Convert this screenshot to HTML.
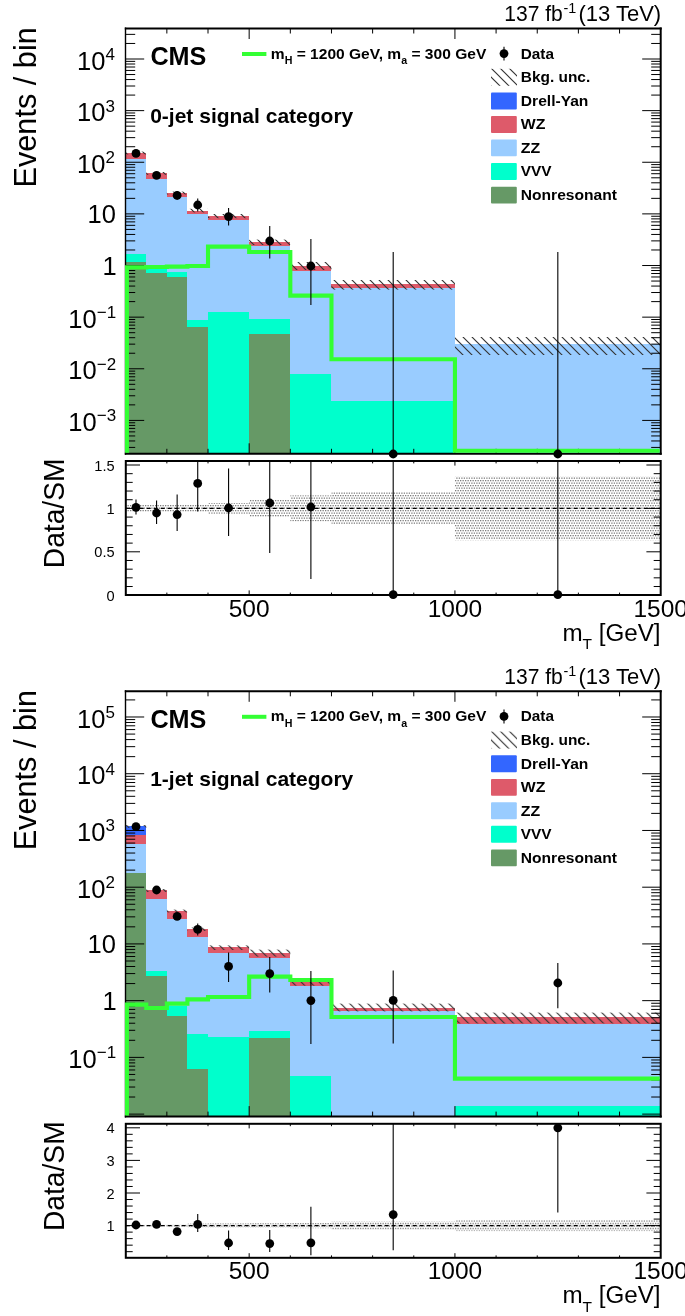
<!DOCTYPE html>
<html lang="en"><head><meta charset="utf-8"><title>CMS mT distributions</title>
<style>html,body{margin:0;padding:0;background:#fff}svg{display:block;will-change:transform}</style></head><body>
<svg width="685" height="1316" viewBox="0 0 685 1316">
<defs>
<pattern id="hatch" width="9" height="9" patternUnits="userSpaceOnUse"><path d="M-1 -1L10 10M-1 8L1 10M8 -1L10 1" stroke="#333" stroke-width="1.15" fill="none"/></pattern>
<pattern id="dots" width="5" height="5" patternUnits="userSpaceOnUse"><rect x="0" y="0" width="1.3" height="1.3" fill="#7c7c7c"/><rect x="2.5" y="0" width="1.3" height="1.3" fill="#7c7c7c"/><rect x="1.25" y="2.5" width="1.3" height="1.3" fill="#7c7c7c"/><rect x="3.75" y="2.5" width="1.3" height="1.3" fill="#7c7c7c"/></pattern>
</defs>
<rect width="685" height="1316" fill="#fff"/>
<g transform="translate(0,0)">
<clipPath id="c1"><rect x="125.7" y="28.5" width="535" height="425.3"/></clipPath>
<clipPath id="rc1"><rect x="125.7" y="461" width="535" height="134"/></clipPath>
<clipPath id="sc1"><rect x="124.8" y="29.5" width="534.9" height="423.3"/></clipPath>
<g clip-path="url(#c1)">
<polygon points="125.7,453.8 125.7,153 146.28,153 146.28,173.4 166.85,173.4 166.85,193 187.43,193 187.43,210.6 208.01,210.6 208.01,216 249.16,216 249.16,242 290.32,242 290.32,266 331.47,266 331.47,284 454.93,284 454.93,343.6 660.7,343.6 660.7,453.8" fill="#3366ff" shape-rendering="crispEdges"/>
<polygon points="125.7,453.8 125.7,153 146.28,153 146.28,173.4 166.85,173.4 166.85,193 187.43,193 187.43,210.6 208.01,210.6 208.01,216 249.16,216 249.16,242 290.32,242 290.32,266 331.47,266 331.47,284 454.93,284 454.93,343.6 660.7,343.6 660.7,453.8" fill="#de5a6a" shape-rendering="crispEdges"/>
<polygon points="125.7,453.8 125.7,158.6 146.28,158.6 146.28,179 166.85,179 166.85,197 187.43,197 187.43,213.6 208.01,213.6 208.01,220 249.16,220 249.16,245.8 290.32,245.8 290.32,271 331.47,271 331.47,287.6 454.93,287.6 454.93,343.6 660.7,343.6 660.7,453.8" fill="#99ccff" shape-rendering="crispEdges"/>
<polygon points="125.7,453.8 125.7,254.4 146.28,254.4 146.28,269 166.85,269 166.85,272.4 187.43,272.4 187.43,320 208.01,320 208.01,312 249.16,312 249.16,318.6 290.32,318.6 290.32,374 331.47,374 331.47,400.6 454.93,400.6 454.93,453.8 660.7,453.8 660.7,453.8" fill="#00ffcc" shape-rendering="crispEdges"/>
<polygon points="125.7,453.8 125.7,261.6 146.28,261.6 146.28,273 166.85,273 166.85,277 187.43,277 187.43,326.6 208.01,326.6 208.01,453.8 249.16,453.8 249.16,334 290.32,334 290.32,453.8 331.47,453.8 331.47,453.8 454.93,453.8 454.93,453.8 660.7,453.8 660.7,453.8" fill="#669966" shape-rendering="crispEdges"/>
<rect x="125.7" y="151.6" width="20.58" height="2.8" fill="url(#hatch)"/>
<rect x="146.28" y="172" width="20.58" height="2.8" fill="url(#hatch)"/>
<rect x="166.85" y="191.6" width="20.58" height="2.8" fill="url(#hatch)"/>
<rect x="187.43" y="208.8" width="20.58" height="3.6" fill="url(#hatch)"/>
<rect x="208.01" y="214" width="41.15" height="4.2" fill="url(#hatch)"/>
<rect x="249.16" y="239.6" width="41.15" height="5.4" fill="url(#hatch)"/>
<rect x="290.32" y="262" width="41.15" height="8" fill="url(#hatch)"/>
<rect x="331.47" y="280" width="123.46" height="9.6" fill="url(#hatch)"/>
<rect x="454.93" y="337" width="205.77" height="18" fill="url(#hatch)"/>
</g>
<line x1="125.5" y1="27.5" x2="125.5" y2="454.8" stroke="#000" stroke-width="1.4"/>
<line x1="660.7" y1="27.5" x2="660.7" y2="454.8" stroke="#000" stroke-width="2"/>
<line x1="124.8" y1="28.5" x2="661.7" y2="28.5" stroke="#000" stroke-width="2"/>
<line x1="124.8" y1="453.8" x2="661.7" y2="453.8" stroke="#000" stroke-width="2"/>
<path d="M125.7 447.41h9.5M660.7 447.41h-9.5M125.7 440.96h9.5M660.7 440.96h-9.5M125.7 435.95h9.5M660.7 435.95h-9.5M125.7 431.86h9.5M660.7 431.86h-9.5M125.7 428.41h9.5M660.7 428.41h-9.5M125.7 425.41h9.5M660.7 425.41h-9.5M125.7 422.77h9.5M660.7 422.77h-9.5M125.7 420.41h18.5M660.7 420.41h-18.5M125.7 404.87h9.5M660.7 404.87h-9.5M125.7 395.78h9.5M660.7 395.78h-9.5M125.7 389.33h9.5M660.7 389.33h-9.5M125.7 384.32h9.5M660.7 384.32h-9.5M125.7 380.23h9.5M660.7 380.23h-9.5M125.7 376.78h9.5M660.7 376.78h-9.5M125.7 373.78h9.5M660.7 373.78h-9.5M125.7 371.14h9.5M660.7 371.14h-9.5M125.7 368.78h18.5M660.7 368.78h-18.5M125.7 353.24h9.5M660.7 353.24h-9.5M125.7 344.15h9.5M660.7 344.15h-9.5M125.7 337.7h9.5M660.7 337.7h-9.5M125.7 332.69h9.5M660.7 332.69h-9.5M125.7 328.6h9.5M660.7 328.6h-9.5M125.7 325.15h9.5M660.7 325.15h-9.5M125.7 322.15h9.5M660.7 322.15h-9.5M125.7 319.51h9.5M660.7 319.51h-9.5M125.7 317.15h18.5M660.7 317.15h-18.5M125.7 301.61h9.5M660.7 301.61h-9.5M125.7 292.52h9.5M660.7 292.52h-9.5M125.7 286.07h9.5M660.7 286.07h-9.5M125.7 281.06h9.5M660.7 281.06h-9.5M125.7 276.97h9.5M660.7 276.97h-9.5M125.7 273.52h9.5M660.7 273.52h-9.5M125.7 270.52h9.5M660.7 270.52h-9.5M125.7 267.88h9.5M660.7 267.88h-9.5M125.7 265.52h18.5M660.7 265.52h-18.5M125.7 249.98h9.5M660.7 249.98h-9.5M125.7 240.89h9.5M660.7 240.89h-9.5M125.7 234.44h9.5M660.7 234.44h-9.5M125.7 229.43h9.5M660.7 229.43h-9.5M125.7 225.34h9.5M660.7 225.34h-9.5M125.7 221.89h9.5M660.7 221.89h-9.5M125.7 218.89h9.5M660.7 218.89h-9.5M125.7 216.25h9.5M660.7 216.25h-9.5M125.7 213.89h18.5M660.7 213.89h-18.5M125.7 198.35h9.5M660.7 198.35h-9.5M125.7 189.26h9.5M660.7 189.26h-9.5M125.7 182.81h9.5M660.7 182.81h-9.5M125.7 177.8h9.5M660.7 177.8h-9.5M125.7 173.71h9.5M660.7 173.71h-9.5M125.7 170.26h9.5M660.7 170.26h-9.5M125.7 167.26h9.5M660.7 167.26h-9.5M125.7 164.62h9.5M660.7 164.62h-9.5M125.7 162.26h18.5M660.7 162.26h-18.5M125.7 146.72h9.5M660.7 146.72h-9.5M125.7 137.63h9.5M660.7 137.63h-9.5M125.7 131.18h9.5M660.7 131.18h-9.5M125.7 126.17h9.5M660.7 126.17h-9.5M125.7 122.08h9.5M660.7 122.08h-9.5M125.7 118.63h9.5M660.7 118.63h-9.5M125.7 115.63h9.5M660.7 115.63h-9.5M125.7 112.99h9.5M660.7 112.99h-9.5M125.7 110.63h18.5M660.7 110.63h-18.5M125.7 95.09h9.5M660.7 95.09h-9.5M125.7 86h9.5M660.7 86h-9.5M125.7 79.55h9.5M660.7 79.55h-9.5M125.7 74.54h9.5M660.7 74.54h-9.5M125.7 70.45h9.5M660.7 70.45h-9.5M125.7 67h9.5M660.7 67h-9.5M125.7 64h9.5M660.7 64h-9.5M125.7 61.36h9.5M660.7 61.36h-9.5M125.7 59h18.5M660.7 59h-18.5M125.7 43.46h9.5M660.7 43.46h-9.5M125.7 34.37h9.5M660.7 34.37h-9.5M166.85 453.8v-5M166.85 28.5v5M208.01 453.8v-5M208.01 28.5v5M249.16 453.8v-10.5M249.16 28.5v10.5M290.32 453.8v-5M290.32 28.5v5M331.47 453.8v-5M331.47 28.5v5M372.62 453.8v-5M372.62 28.5v5M413.78 453.8v-5M413.78 28.5v5M454.93 453.8v-10.5M454.93 28.5v10.5M496.08 453.8v-5M496.08 28.5v5M537.24 453.8v-5M537.24 28.5v5M578.39 453.8v-5M578.39 28.5v5M619.55 453.8v-5M619.55 28.5v5" stroke="#000" stroke-width="1.0" fill="none"/>
<g clip-path="url(#sc1)"><polyline points="126.9,453.8 126.9,267.4 146.28,267.4 146.28,267 166.85,267 166.85,266.6 187.43,266.6 187.43,266 208.01,266 208.01,246.6 249.16,246.6 249.16,252 290.32,252 290.32,295.6 331.47,295.6 331.47,359.2 454.93,359.2 454.93,450.9 660.7,450.9" fill="none" stroke="#33ff33" stroke-width="4.1" stroke-linejoin="miter"/></g>
<circle cx="135.99" cy="153.4" r="4.4" fill="#000"/>
<circle cx="156.57" cy="175.4" r="4.4" fill="#000"/>
<line x1="177.14" y1="191" x2="177.14" y2="199.8" stroke="#000" stroke-width="1.1"/>
<circle cx="177.14" cy="195.4" r="4.4" fill="#000"/>
<line x1="197.72" y1="198.4" x2="197.72" y2="211.6" stroke="#000" stroke-width="1.1"/>
<circle cx="197.72" cy="205" r="4.4" fill="#000"/>
<line x1="228.58" y1="208" x2="228.58" y2="225.4" stroke="#000" stroke-width="1.1"/>
<circle cx="228.58" cy="216.6" r="4.4" fill="#000"/>
<line x1="269.74" y1="226" x2="269.74" y2="258.6" stroke="#000" stroke-width="1.1"/>
<circle cx="269.74" cy="241" r="4.4" fill="#000"/>
<line x1="310.89" y1="239" x2="310.89" y2="305" stroke="#000" stroke-width="1.1"/>
<circle cx="310.89" cy="266" r="4.4" fill="#000"/>
<line x1="393.2" y1="252" x2="393.2" y2="453.8" stroke="#000" stroke-width="1.1"/>
<circle cx="393.2" cy="454" r="4.4" fill="#000"/>
<line x1="557.82" y1="252" x2="557.82" y2="453.8" stroke="#000" stroke-width="1.1"/>
<circle cx="557.82" cy="454" r="4.4" fill="#000"/>
<text x="114.9" y="69.7" text-anchor="end" font-size="25.5" font-family="Liberation Sans, Arial, Helvetica, sans-serif">10<tspan font-size="17" dy="-9.8">4</tspan></text>
<text x="114.9" y="121.33" text-anchor="end" font-size="25.5" font-family="Liberation Sans, Arial, Helvetica, sans-serif">10<tspan font-size="17" dy="-9.8">3</tspan></text>
<text x="114.9" y="172.96" text-anchor="end" font-size="25.5" font-family="Liberation Sans, Arial, Helvetica, sans-serif">10<tspan font-size="17" dy="-9.8">2</tspan></text>
<text x="115.9" y="222.89" text-anchor="end" font-size="25.5" font-family="Liberation Sans, Arial, Helvetica, sans-serif">10</text>
<text x="116.8" y="274.92" text-anchor="end" font-size="25.5" font-family="Liberation Sans, Arial, Helvetica, sans-serif">1</text>
<text x="116.1" y="327.85" text-anchor="end" font-size="25.5" font-family="Liberation Sans, Arial, Helvetica, sans-serif">10<tspan font-size="17" dy="-9.8">−1</tspan></text>
<text x="116.1" y="379.48" text-anchor="end" font-size="25.5" font-family="Liberation Sans, Arial, Helvetica, sans-serif">10<tspan font-size="17" dy="-9.8">−2</tspan></text>
<text x="116.1" y="431.11" text-anchor="end" font-size="25.5" font-family="Liberation Sans, Arial, Helvetica, sans-serif">10<tspan font-size="17" dy="-9.8">−3</tspan></text>
<text transform="translate(36.3,27.2) rotate(-90)" text-anchor="end" font-size="30.7" font-family="Liberation Sans, Arial, Helvetica, sans-serif">Events / bin</text>
<text x="504.2" y="21.3" font-size="22.2" textLength="58.6" lengthAdjust="spacingAndGlyphs" font-family="Liberation Sans, Arial, Helvetica, sans-serif">137 fb</text>
<text x="563.4" y="13.3" font-size="14.4" font-family="Liberation Sans, Arial, Helvetica, sans-serif">-1</text>
<text x="578.4" y="21.3" font-size="22.2" textLength="82.8" lengthAdjust="spacingAndGlyphs" font-family="Liberation Sans, Arial, Helvetica, sans-serif">(13 TeV)</text>
<text x="150.4" y="64.8" font-size="25.2" font-weight="bold" font-family="Liberation Sans, Arial, Helvetica, sans-serif">CMS</text>
<text x="150.2" y="123" font-size="21" font-weight="bold" font-family="Liberation Sans, Arial, Helvetica, sans-serif">0-jet signal category</text>
<line x1="242" y1="54" x2="266.4" y2="54" stroke="#33ff33" stroke-width="4"/>
<text x="270.8" y="58.7" font-size="14.6" font-weight="bold" textLength="215.5" lengthAdjust="spacingAndGlyphs" font-family="Liberation Sans, Arial, Helvetica, sans-serif">m<tspan font-size="10" dy="5.4">H</tspan><tspan dy="-5.4"> = 1200 GeV, m</tspan><tspan font-size="10" dy="5.4">a</tspan><tspan dy="-5.4"> = 300 GeV</tspan></text>
<line x1="504" y1="46.8" x2="504" y2="60.6" stroke="#000" stroke-width="1.1"/><circle cx="504" cy="53.6" r="4.4" fill="#000"/>
<rect x="491" y="68.8" width="26" height="17" fill="url(#hatch)"/>
<rect x="491" y="92.55" width="25.8" height="16.9" rx="1" fill="#3366ff"/>
<rect x="491" y="116.1" width="25.8" height="16.9" rx="1" fill="#de5a6a"/>
<rect x="491" y="139.45" width="25.8" height="16.9" rx="1" fill="#99ccff"/>
<rect x="491" y="163.05" width="25.8" height="16.9" rx="1" fill="#00ffcc"/>
<rect x="491" y="186.65" width="25.8" height="16.9" rx="1" fill="#669966"/>
<text x="520.8" y="58.5" font-size="14.6" font-weight="bold" textLength="33.2" lengthAdjust="spacingAndGlyphs" font-family="Liberation Sans, Arial, Helvetica, sans-serif">Data</text>
<text x="520.8" y="82.2" font-size="14.6" font-weight="bold" textLength="69.4" lengthAdjust="spacingAndGlyphs" font-family="Liberation Sans, Arial, Helvetica, sans-serif">Bkg. unc.</text>
<text x="520.8" y="105.9" font-size="14.6" font-weight="bold" textLength="67.6" lengthAdjust="spacingAndGlyphs" font-family="Liberation Sans, Arial, Helvetica, sans-serif">Drell-Yan</text>
<text x="520.8" y="129.45" font-size="14.6" font-weight="bold" textLength="24.6" lengthAdjust="spacingAndGlyphs" font-family="Liberation Sans, Arial, Helvetica, sans-serif">WZ</text>
<text x="520.8" y="152.8" font-size="14.6" font-weight="bold" textLength="19.4" lengthAdjust="spacingAndGlyphs" font-family="Liberation Sans, Arial, Helvetica, sans-serif">ZZ</text>
<text x="520.8" y="176.4" font-size="14.6" font-weight="bold" textLength="30.8" lengthAdjust="spacingAndGlyphs" font-family="Liberation Sans, Arial, Helvetica, sans-serif">VVV</text>
<text x="520.8" y="200" font-size="14.6" font-weight="bold" textLength="96.2" lengthAdjust="spacingAndGlyphs" font-family="Liberation Sans, Arial, Helvetica, sans-serif">Nonresonant</text>
<g clip-path="url(#rc1)">
<rect x="125.7" y="505" width="20.58" height="6.8" fill="url(#dots)"/>
<rect x="146.28" y="505" width="20.58" height="6.8" fill="url(#dots)"/>
<rect x="166.85" y="505" width="20.58" height="6.8" fill="url(#dots)"/>
<rect x="187.43" y="505" width="20.58" height="6.8" fill="url(#dots)"/>
<rect x="208.01" y="503" width="41.15" height="10.8" fill="url(#dots)"/>
<rect x="249.16" y="499.8" width="41.15" height="17.2" fill="url(#dots)"/>
<rect x="290.32" y="495.4" width="41.15" height="26" fill="url(#dots)"/>
<rect x="331.47" y="492.1" width="123.46" height="32.6" fill="url(#dots)"/>
<rect x="454.93" y="476.6" width="205.77" height="63.6" fill="url(#dots)"/>
<line x1="125.7" y1="508.4" x2="660.7" y2="508.4" stroke="#000" stroke-width="1.15" stroke-dasharray="4 3"/>
</g>
<rect x="125.8" y="461" width="534.9" height="134" fill="none" stroke="#000" stroke-width="2"/>
<path d="M125.7 586.52h7M660.7 586.52h-7M125.7 577.84h7M660.7 577.84h-7M125.7 569.16h7M660.7 569.16h-7M125.7 560.48h7M660.7 560.48h-7M125.7 551.8h14.3M660.7 551.8h-14.3M125.7 543.12h7M660.7 543.12h-7M125.7 534.44h7M660.7 534.44h-7M125.7 525.76h7M660.7 525.76h-7M125.7 517.08h7M660.7 517.08h-7M125.7 508.4h14.3M660.7 508.4h-14.3M125.7 499.72h7M660.7 499.72h-7M125.7 491.04h7M660.7 491.04h-7M125.7 482.36h7M660.7 482.36h-7M125.7 473.68h7M660.7 473.68h-7M125.7 465h14.3M660.7 465h-14.3M166.85 595v-2.4M166.85 461v2.4M208.01 595v-2.4M208.01 461v2.4M249.16 595v-4.6M249.16 461v4.6M290.32 595v-2.4M290.32 461v2.4M331.47 595v-2.4M331.47 461v2.4M372.62 595v-2.4M372.62 461v2.4M413.78 595v-2.4M413.78 461v2.4M454.93 595v-4.6M454.93 461v4.6M496.08 595v-2.4M496.08 461v2.4M537.24 595v-2.4M537.24 461v2.4M578.39 595v-2.4M578.39 461v2.4M619.55 595v-2.4M619.55 461v2.4" stroke="#000" stroke-width="1.0" fill="none"/>
<line x1="135.99" y1="499.6" x2="135.99" y2="514.4" stroke="#000" stroke-width="1.1"/>
<circle cx="135.99" cy="507.4" r="4.4" fill="#000"/>
<line x1="156.57" y1="500.4" x2="156.57" y2="524" stroke="#000" stroke-width="1.1"/>
<circle cx="156.57" cy="513" r="4.4" fill="#000"/>
<line x1="177.14" y1="494.4" x2="177.14" y2="531" stroke="#000" stroke-width="1.1"/>
<circle cx="177.14" cy="514.6" r="4.4" fill="#000"/>
<line x1="197.72" y1="461" x2="197.72" y2="511.6" stroke="#000" stroke-width="1.1"/>
<circle cx="197.72" cy="483.4" r="4.4" fill="#000"/>
<line x1="228.58" y1="468.6" x2="228.58" y2="536" stroke="#000" stroke-width="1.1"/>
<circle cx="228.58" cy="508" r="4.4" fill="#000"/>
<line x1="269.74" y1="461" x2="269.74" y2="553" stroke="#000" stroke-width="1.1"/>
<circle cx="269.74" cy="503" r="4.4" fill="#000"/>
<line x1="310.89" y1="461" x2="310.89" y2="579" stroke="#000" stroke-width="1.1"/>
<circle cx="310.89" cy="507" r="4.4" fill="#000"/>
<line x1="393.2" y1="461" x2="393.2" y2="595" stroke="#000" stroke-width="1.1"/>
<circle cx="393.2" cy="594.6" r="4.4" fill="#000"/>
<line x1="557.82" y1="461" x2="557.82" y2="595" stroke="#000" stroke-width="1.1"/>
<circle cx="557.82" cy="594.6" r="4.4" fill="#000"/>
<text x="114.6" y="470.6" text-anchor="end" font-size="14.6" font-family="Liberation Sans, Arial, Helvetica, sans-serif">1.5</text>
<text x="114.6" y="514" text-anchor="end" font-size="14.6" font-family="Liberation Sans, Arial, Helvetica, sans-serif">1</text>
<text x="114.6" y="557.4" text-anchor="end" font-size="14.6" font-family="Liberation Sans, Arial, Helvetica, sans-serif">0.5</text>
<text x="114.6" y="600.8" text-anchor="end" font-size="14.6" font-family="Liberation Sans, Arial, Helvetica, sans-serif">0</text>
<text transform="translate(64.3,458.6) rotate(-90)" text-anchor="end" font-size="29.6" textLength="109.6" lengthAdjust="spacingAndGlyphs" font-family="Liberation Sans, Arial, Helvetica, sans-serif">Data/SM</text>
<text x="249.16" y="616.6" text-anchor="middle" font-size="24.5" font-family="Liberation Sans, Arial, Helvetica, sans-serif">500</text>
<text x="454.93" y="616.6" text-anchor="middle" font-size="24.5" font-family="Liberation Sans, Arial, Helvetica, sans-serif">1000</text>
<text x="660.7" y="616.6" text-anchor="middle" font-size="24.5" font-family="Liberation Sans, Arial, Helvetica, sans-serif">1500</text>
<text x="660.6" y="640.6" text-anchor="end" font-size="24.2" font-family="Liberation Sans, Arial, Helvetica, sans-serif">m<tspan font-size="15.5" dy="8.4">T</tspan><tspan dy="-8.4"> [GeV]</tspan></text>
</g>
<g transform="translate(0,662.8)">
<clipPath id="c2"><rect x="125.7" y="28.5" width="535" height="425.3"/></clipPath>
<clipPath id="rc2"><rect x="125.7" y="461" width="535" height="134"/></clipPath>
<clipPath id="sc2"><rect x="124.8" y="29.5" width="534.9" height="423.3"/></clipPath>
<g clip-path="url(#c2)">
<polygon points="125.7,453.8 125.7,163.6 146.28,163.6 146.28,227.6 166.85,227.6 166.85,248.2 187.43,248.2 187.43,266.6 208.01,266.6 208.01,284.6 249.16,284.6 249.16,290.2 290.32,290.2 290.32,319.2 331.47,319.2 331.47,344.7 454.93,344.7 454.93,354.4 660.7,354.4 660.7,453.8" fill="#3366ff" shape-rendering="crispEdges"/>
<polygon points="125.7,453.8 125.7,172.2 146.28,172.2 146.28,227.6 166.85,227.6 166.85,248.2 187.43,248.2 187.43,266.6 208.01,266.6 208.01,284.6 249.16,284.6 249.16,290.2 290.32,290.2 290.32,319.2 331.47,319.2 331.47,344.7 454.93,344.7 454.93,354.4 660.7,354.4 660.7,453.8" fill="#de5a6a" shape-rendering="crispEdges"/>
<polygon points="125.7,453.8 125.7,181.6 146.28,181.6 146.28,235.8 166.85,235.8 166.85,255.8 187.43,255.8 187.43,274 208.01,274 208.01,290.2 249.16,290.2 249.16,294.8 290.32,294.8 290.32,322.8 331.47,322.8 331.47,348.4 454.93,348.4 454.93,361.6 660.7,361.6 660.7,453.8" fill="#99ccff" shape-rendering="crispEdges"/>
<polygon points="125.7,453.8 125.7,210.2 146.28,210.2 146.28,307.8 166.85,307.8 166.85,342.8 187.43,342.8 187.43,371.4 208.01,371.4 208.01,374.6 249.16,374.6 249.16,367.8 290.32,367.8 290.32,413.6 331.47,413.6 331.47,453.8 454.93,453.8 454.93,443.2 660.7,443.2 660.7,453.8" fill="#00ffcc" shape-rendering="crispEdges"/>
<polygon points="125.7,453.8 125.7,210.2 146.28,210.2 146.28,312.8 166.85,312.8 166.85,353.2 187.43,353.2 187.43,406.2 208.01,406.2 208.01,453.8 249.16,453.8 249.16,375.2 290.32,375.2 290.32,453.8 331.47,453.8 331.47,453.8 454.93,453.8 454.93,453.8 660.7,453.8 660.7,453.8" fill="#669966" shape-rendering="crispEdges"/>
<rect x="125.7" y="162.2" width="20.58" height="3" fill="url(#hatch)"/>
<rect x="146.28" y="226.2" width="20.58" height="3" fill="url(#hatch)"/>
<rect x="166.85" y="246.8" width="20.58" height="2.8" fill="url(#hatch)"/>
<rect x="187.43" y="264.7" width="20.58" height="3.5" fill="url(#hatch)"/>
<rect x="208.01" y="282.6" width="41.15" height="4.6" fill="url(#hatch)"/>
<rect x="249.16" y="286.8" width="41.15" height="7" fill="url(#hatch)"/>
<rect x="290.32" y="316.2" width="41.15" height="6.6" fill="url(#hatch)"/>
<rect x="331.47" y="340.8" width="123.46" height="7.8" fill="url(#hatch)"/>
<rect x="454.93" y="349.8" width="205.77" height="10.8" fill="url(#hatch)"/>
</g>
<line x1="125.5" y1="27.5" x2="125.5" y2="454.8" stroke="#000" stroke-width="1.4"/>
<line x1="660.7" y1="27.5" x2="660.7" y2="454.8" stroke="#000" stroke-width="2"/>
<line x1="124.8" y1="28.5" x2="661.7" y2="28.5" stroke="#000" stroke-width="2"/>
<line x1="124.8" y1="453.8" x2="661.7" y2="453.8" stroke="#000" stroke-width="2"/>
<path d="M125.7 451.31h18.5M660.7 451.31h-18.5M125.7 434.23h9.5M660.7 434.23h-9.5M125.7 424.24h9.5M660.7 424.24h-9.5M125.7 417.16h9.5M660.7 417.16h-9.5M125.7 411.66h9.5M660.7 411.66h-9.5M125.7 407.17h9.5M660.7 407.17h-9.5M125.7 403.37h9.5M660.7 403.37h-9.5M125.7 400.08h9.5M660.7 400.08h-9.5M125.7 397.18h9.5M660.7 397.18h-9.5M125.7 394.58h18.5M660.7 394.58h-18.5M125.7 377.5h9.5M660.7 377.5h-9.5M125.7 367.51h9.5M660.7 367.51h-9.5M125.7 360.43h9.5M660.7 360.43h-9.5M125.7 354.93h9.5M660.7 354.93h-9.5M125.7 350.44h9.5M660.7 350.44h-9.5M125.7 346.64h9.5M660.7 346.64h-9.5M125.7 343.35h9.5M660.7 343.35h-9.5M125.7 340.45h9.5M660.7 340.45h-9.5M125.7 337.85h18.5M660.7 337.85h-18.5M125.7 320.77h9.5M660.7 320.77h-9.5M125.7 310.78h9.5M660.7 310.78h-9.5M125.7 303.7h9.5M660.7 303.7h-9.5M125.7 298.2h9.5M660.7 298.2h-9.5M125.7 293.71h9.5M660.7 293.71h-9.5M125.7 289.91h9.5M660.7 289.91h-9.5M125.7 286.62h9.5M660.7 286.62h-9.5M125.7 283.72h9.5M660.7 283.72h-9.5M125.7 281.12h18.5M660.7 281.12h-18.5M125.7 264.04h9.5M660.7 264.04h-9.5M125.7 254.05h9.5M660.7 254.05h-9.5M125.7 246.97h9.5M660.7 246.97h-9.5M125.7 241.47h9.5M660.7 241.47h-9.5M125.7 236.98h9.5M660.7 236.98h-9.5M125.7 233.18h9.5M660.7 233.18h-9.5M125.7 229.89h9.5M660.7 229.89h-9.5M125.7 226.99h9.5M660.7 226.99h-9.5M125.7 224.39h18.5M660.7 224.39h-18.5M125.7 207.31h9.5M660.7 207.31h-9.5M125.7 197.32h9.5M660.7 197.32h-9.5M125.7 190.24h9.5M660.7 190.24h-9.5M125.7 184.74h9.5M660.7 184.74h-9.5M125.7 180.25h9.5M660.7 180.25h-9.5M125.7 176.45h9.5M660.7 176.45h-9.5M125.7 173.16h9.5M660.7 173.16h-9.5M125.7 170.26h9.5M660.7 170.26h-9.5M125.7 167.66h18.5M660.7 167.66h-18.5M125.7 150.58h9.5M660.7 150.58h-9.5M125.7 140.59h9.5M660.7 140.59h-9.5M125.7 133.51h9.5M660.7 133.51h-9.5M125.7 128.01h9.5M660.7 128.01h-9.5M125.7 123.52h9.5M660.7 123.52h-9.5M125.7 119.72h9.5M660.7 119.72h-9.5M125.7 116.43h9.5M660.7 116.43h-9.5M125.7 113.53h9.5M660.7 113.53h-9.5M125.7 110.93h18.5M660.7 110.93h-18.5M125.7 93.85h9.5M660.7 93.85h-9.5M125.7 83.86h9.5M660.7 83.86h-9.5M125.7 76.78h9.5M660.7 76.78h-9.5M125.7 71.28h9.5M660.7 71.28h-9.5M125.7 66.79h9.5M660.7 66.79h-9.5M125.7 62.99h9.5M660.7 62.99h-9.5M125.7 59.7h9.5M660.7 59.7h-9.5M125.7 56.8h9.5M660.7 56.8h-9.5M125.7 54.2h18.5M660.7 54.2h-18.5M125.7 37.12h9.5M660.7 37.12h-9.5M166.85 453.8v-5M166.85 28.5v5M208.01 453.8v-5M208.01 28.5v5M249.16 453.8v-10.5M249.16 28.5v10.5M290.32 453.8v-5M290.32 28.5v5M331.47 453.8v-5M331.47 28.5v5M372.62 453.8v-5M372.62 28.5v5M413.78 453.8v-5M413.78 28.5v5M454.93 453.8v-10.5M454.93 28.5v10.5M496.08 453.8v-5M496.08 28.5v5M537.24 453.8v-5M537.24 28.5v5M578.39 453.8v-5M578.39 28.5v5M619.55 453.8v-5M619.55 28.5v5" stroke="#000" stroke-width="1.0" fill="none"/>
<g clip-path="url(#sc2)"><polyline points="126.9,453.8 126.9,341.8 146.28,341.8 146.28,345.2 166.85,345.2 166.85,340.8 187.43,340.8 187.43,336.6 208.01,336.6 208.01,334.2 249.16,334.2 249.16,313.8 290.32,313.8 290.32,317.2 331.47,317.2 331.47,354.2 454.93,354.2 454.93,415.8 660.7,415.8" fill="none" stroke="#33ff33" stroke-width="4.1" stroke-linejoin="miter"/></g>
<circle cx="135.99" cy="163.8" r="4.4" fill="#000"/>
<circle cx="156.57" cy="227.2" r="4.4" fill="#000"/>
<circle cx="177.14" cy="253.6" r="4.4" fill="#000"/>
<line x1="197.72" y1="260.6" x2="197.72" y2="272.8" stroke="#000" stroke-width="1.1"/>
<circle cx="197.72" cy="266.6" r="4.4" fill="#000"/>
<line x1="228.58" y1="289.6" x2="228.58" y2="319.2" stroke="#000" stroke-width="1.1"/>
<circle cx="228.58" cy="303.6" r="4.4" fill="#000"/>
<line x1="269.74" y1="294.2" x2="269.74" y2="329.6" stroke="#000" stroke-width="1.1"/>
<circle cx="269.74" cy="310.8" r="4.4" fill="#000"/>
<line x1="310.89" y1="308.2" x2="310.89" y2="381.2" stroke="#000" stroke-width="1.1"/>
<circle cx="310.89" cy="337.8" r="4.4" fill="#000"/>
<line x1="393.2" y1="307.8" x2="393.2" y2="380.8" stroke="#000" stroke-width="1.1"/>
<circle cx="393.2" cy="337.6" r="4.4" fill="#000"/>
<line x1="557.82" y1="300.1" x2="557.82" y2="345.4" stroke="#000" stroke-width="1.1"/>
<circle cx="557.82" cy="320.2" r="4.4" fill="#000"/>
<text x="114.9" y="64.9" text-anchor="end" font-size="25.5" font-family="Liberation Sans, Arial, Helvetica, sans-serif">10<tspan font-size="17" dy="-9.8">5</tspan></text>
<text x="114.9" y="121.63" text-anchor="end" font-size="25.5" font-family="Liberation Sans, Arial, Helvetica, sans-serif">10<tspan font-size="17" dy="-9.8">4</tspan></text>
<text x="114.9" y="178.36" text-anchor="end" font-size="25.5" font-family="Liberation Sans, Arial, Helvetica, sans-serif">10<tspan font-size="17" dy="-9.8">3</tspan></text>
<text x="114.9" y="235.09" text-anchor="end" font-size="25.5" font-family="Liberation Sans, Arial, Helvetica, sans-serif">10<tspan font-size="17" dy="-9.8">2</tspan></text>
<text x="115.9" y="290.12" text-anchor="end" font-size="25.5" font-family="Liberation Sans, Arial, Helvetica, sans-serif">10</text>
<text x="116.8" y="347.25" text-anchor="end" font-size="25.5" font-family="Liberation Sans, Arial, Helvetica, sans-serif">1</text>
<text x="116.1" y="405.28" text-anchor="end" font-size="25.5" font-family="Liberation Sans, Arial, Helvetica, sans-serif">10<tspan font-size="17" dy="-9.8">−1</tspan></text>
<text transform="translate(36.3,27.2) rotate(-90)" text-anchor="end" font-size="30.7" font-family="Liberation Sans, Arial, Helvetica, sans-serif">Events / bin</text>
<text x="504.2" y="21.3" font-size="22.2" textLength="58.6" lengthAdjust="spacingAndGlyphs" font-family="Liberation Sans, Arial, Helvetica, sans-serif">137 fb</text>
<text x="563.4" y="13.3" font-size="14.4" font-family="Liberation Sans, Arial, Helvetica, sans-serif">-1</text>
<text x="578.4" y="21.3" font-size="22.2" textLength="82.8" lengthAdjust="spacingAndGlyphs" font-family="Liberation Sans, Arial, Helvetica, sans-serif">(13 TeV)</text>
<text x="150.4" y="64.8" font-size="25.2" font-weight="bold" font-family="Liberation Sans, Arial, Helvetica, sans-serif">CMS</text>
<text x="150.2" y="123" font-size="21" font-weight="bold" font-family="Liberation Sans, Arial, Helvetica, sans-serif">1-jet signal category</text>
<line x1="242" y1="54" x2="266.4" y2="54" stroke="#33ff33" stroke-width="4"/>
<text x="270.8" y="58.7" font-size="14.6" font-weight="bold" textLength="215.5" lengthAdjust="spacingAndGlyphs" font-family="Liberation Sans, Arial, Helvetica, sans-serif">m<tspan font-size="10" dy="5.4">H</tspan><tspan dy="-5.4"> = 1200 GeV, m</tspan><tspan font-size="10" dy="5.4">a</tspan><tspan dy="-5.4"> = 300 GeV</tspan></text>
<line x1="504" y1="46.8" x2="504" y2="60.6" stroke="#000" stroke-width="1.1"/><circle cx="504" cy="53.6" r="4.4" fill="#000"/>
<rect x="491" y="68.8" width="26" height="17" fill="url(#hatch)"/>
<rect x="491" y="92.55" width="25.8" height="16.9" rx="1" fill="#3366ff"/>
<rect x="491" y="116.1" width="25.8" height="16.9" rx="1" fill="#de5a6a"/>
<rect x="491" y="139.45" width="25.8" height="16.9" rx="1" fill="#99ccff"/>
<rect x="491" y="163.05" width="25.8" height="16.9" rx="1" fill="#00ffcc"/>
<rect x="491" y="186.65" width="25.8" height="16.9" rx="1" fill="#669966"/>
<text x="520.8" y="58.5" font-size="14.6" font-weight="bold" textLength="33.2" lengthAdjust="spacingAndGlyphs" font-family="Liberation Sans, Arial, Helvetica, sans-serif">Data</text>
<text x="520.8" y="82.2" font-size="14.6" font-weight="bold" textLength="69.4" lengthAdjust="spacingAndGlyphs" font-family="Liberation Sans, Arial, Helvetica, sans-serif">Bkg. unc.</text>
<text x="520.8" y="105.9" font-size="14.6" font-weight="bold" textLength="67.6" lengthAdjust="spacingAndGlyphs" font-family="Liberation Sans, Arial, Helvetica, sans-serif">Drell-Yan</text>
<text x="520.8" y="129.45" font-size="14.6" font-weight="bold" textLength="24.6" lengthAdjust="spacingAndGlyphs" font-family="Liberation Sans, Arial, Helvetica, sans-serif">WZ</text>
<text x="520.8" y="152.8" font-size="14.6" font-weight="bold" textLength="19.4" lengthAdjust="spacingAndGlyphs" font-family="Liberation Sans, Arial, Helvetica, sans-serif">ZZ</text>
<text x="520.8" y="176.4" font-size="14.6" font-weight="bold" textLength="30.8" lengthAdjust="spacingAndGlyphs" font-family="Liberation Sans, Arial, Helvetica, sans-serif">VVV</text>
<text x="520.8" y="200" font-size="14.6" font-weight="bold" textLength="96.2" lengthAdjust="spacingAndGlyphs" font-family="Liberation Sans, Arial, Helvetica, sans-serif">Nonresonant</text>
<g clip-path="url(#rc2)">
<rect x="125.7" y="562.1" width="20.58" height="1.4" fill="url(#dots)"/>
<rect x="146.28" y="562" width="20.58" height="1.6" fill="url(#dots)"/>
<rect x="166.85" y="561.8" width="20.58" height="2" fill="url(#dots)"/>
<rect x="187.43" y="560.8" width="20.58" height="4" fill="url(#dots)"/>
<rect x="208.01" y="560.6" width="41.15" height="4.4" fill="url(#dots)"/>
<rect x="249.16" y="560.4" width="41.15" height="4.8" fill="url(#dots)"/>
<rect x="290.32" y="560.2" width="41.15" height="5.2" fill="url(#dots)"/>
<rect x="331.47" y="558.8" width="123.46" height="8" fill="url(#dots)"/>
<rect x="454.93" y="557.3" width="205.77" height="11" fill="url(#dots)"/>
<line x1="125.7" y1="562.8" x2="660.7" y2="562.8" stroke="#000" stroke-width="1.15" stroke-dasharray="4 3"/>
</g>
<rect x="125.8" y="461" width="534.9" height="134" fill="none" stroke="#000" stroke-width="2"/>
<path d="M125.7 588.88h7M660.7 588.88h-7M125.7 582.36h7M660.7 582.36h-7M125.7 575.84h7M660.7 575.84h-7M125.7 569.32h7M660.7 569.32h-7M125.7 562.8h14.3M660.7 562.8h-14.3M125.7 556.28h7M660.7 556.28h-7M125.7 549.76h7M660.7 549.76h-7M125.7 543.24h7M660.7 543.24h-7M125.7 536.72h7M660.7 536.72h-7M125.7 530.2h14.3M660.7 530.2h-14.3M125.7 523.68h7M660.7 523.68h-7M125.7 517.16h7M660.7 517.16h-7M125.7 510.64h7M660.7 510.64h-7M125.7 504.12h7M660.7 504.12h-7M125.7 497.6h14.3M660.7 497.6h-14.3M125.7 491.08h7M660.7 491.08h-7M125.7 484.56h7M660.7 484.56h-7M125.7 478.04h7M660.7 478.04h-7M125.7 471.52h7M660.7 471.52h-7M125.7 465h14.3M660.7 465h-14.3M166.85 595v-2.4M166.85 461v2.4M208.01 595v-2.4M208.01 461v2.4M249.16 595v-4.6M249.16 461v4.6M290.32 595v-2.4M290.32 461v2.4M331.47 595v-2.4M331.47 461v2.4M372.62 595v-2.4M372.62 461v2.4M413.78 595v-2.4M413.78 461v2.4M454.93 595v-4.6M454.93 461v4.6M496.08 595v-2.4M496.08 461v2.4M537.24 595v-2.4M537.24 461v2.4M578.39 595v-2.4M578.39 461v2.4M619.55 595v-2.4M619.55 461v2.4" stroke="#000" stroke-width="1.0" fill="none"/>
<circle cx="135.99" cy="562.2" r="4.4" fill="#000"/>
<circle cx="156.57" cy="561.6" r="4.4" fill="#000"/>
<circle cx="177.14" cy="568.8" r="4.4" fill="#000"/>
<line x1="197.72" y1="551.2" x2="197.72" y2="569.2" stroke="#000" stroke-width="1.1"/>
<circle cx="197.72" cy="561.6" r="4.4" fill="#000"/>
<line x1="228.58" y1="567.8" x2="228.58" y2="587.2" stroke="#000" stroke-width="1.1"/>
<circle cx="228.58" cy="580.2" r="4.4" fill="#000"/>
<line x1="269.74" y1="567.2" x2="269.74" y2="589.2" stroke="#000" stroke-width="1.1"/>
<circle cx="269.74" cy="580.8" r="4.4" fill="#000"/>
<line x1="310.89" y1="544" x2="310.89" y2="592.4" stroke="#000" stroke-width="1.1"/>
<circle cx="310.89" cy="580" r="4.4" fill="#000"/>
<line x1="393.2" y1="461" x2="393.2" y2="587.4" stroke="#000" stroke-width="1.1"/>
<circle cx="393.2" cy="551.8" r="4.4" fill="#000"/>
<line x1="557.82" y1="461" x2="557.82" y2="549.6" stroke="#000" stroke-width="1.1"/>
<circle cx="557.82" cy="465" r="4.4" fill="#000"/>
<text x="114.6" y="470.6" text-anchor="end" font-size="14.6" font-family="Liberation Sans, Arial, Helvetica, sans-serif">4</text>
<text x="114.6" y="503.2" text-anchor="end" font-size="14.6" font-family="Liberation Sans, Arial, Helvetica, sans-serif">3</text>
<text x="114.6" y="535.8" text-anchor="end" font-size="14.6" font-family="Liberation Sans, Arial, Helvetica, sans-serif">2</text>
<text x="114.6" y="568.4" text-anchor="end" font-size="14.6" font-family="Liberation Sans, Arial, Helvetica, sans-serif">1</text>
<text transform="translate(64.3,458.6) rotate(-90)" text-anchor="end" font-size="29.6" textLength="109.6" lengthAdjust="spacingAndGlyphs" font-family="Liberation Sans, Arial, Helvetica, sans-serif">Data/SM</text>
<text x="249.16" y="616.6" text-anchor="middle" font-size="24.5" font-family="Liberation Sans, Arial, Helvetica, sans-serif">500</text>
<text x="454.93" y="616.6" text-anchor="middle" font-size="24.5" font-family="Liberation Sans, Arial, Helvetica, sans-serif">1000</text>
<text x="660.7" y="616.6" text-anchor="middle" font-size="24.5" font-family="Liberation Sans, Arial, Helvetica, sans-serif">1500</text>
<text x="660.6" y="640.6" text-anchor="end" font-size="24.2" font-family="Liberation Sans, Arial, Helvetica, sans-serif">m<tspan font-size="15.5" dy="8.4">T</tspan><tspan dy="-8.4"> [GeV]</tspan></text>
</g>
</svg></body></html>
